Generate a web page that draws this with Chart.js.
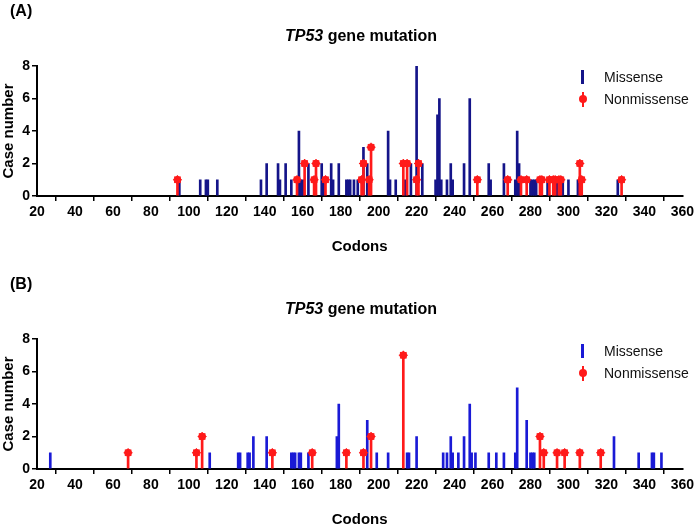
<!DOCTYPE html>
<html>
<head>
<meta charset="utf-8">
<title>TP53 gene mutation</title>
<script src="https://cdn.jsdelivr.net/npm/chart.js@4.4.0/dist/chart.umd.min.js"></script>
<style>
  body { margin: 0; background: #fff; font-family: "Liberation Sans", Arial, sans-serif; }
  #page { position: relative; width: 697px; height: 530px; overflow: hidden; }
  .panel { position: absolute; left: 0; width: 697px; height: 256px; }
  .panel canvas { position: absolute; left: 0; top: 0; }
  .tag { position: absolute; left: 10px; top: 2px; font-weight: bold; font-size: 16px; line-height: 18px; }
  .title { position: absolute; left: 361px; top: 27px; transform: translateX(-50%); white-space: nowrap;
           font-weight: bold; font-size: 16px; line-height: 18px; color: #000; }
  .leg { position: absolute; left: 604px; font-size: 14px; line-height: 16px; color: #111; }
  .ico-bar { position: absolute; left: 581px; width: 3px; height: 14px; }
  .ico-line { position: absolute; left: 581.5px; width: 2px; height: 15px; background: #ff1a1a; }
  .ico-dot { position: absolute; left: 578.5px; width: 8px; height: 8px; border-radius: 50%; background: #ff1a1a; }
</style>
</head>
<body>
<div id="page">
  <div class="panel" style="top:0">
    <canvas id="chartA" width="697" height="256"></canvas>
    <div class="tag">(A)</div>
    <div class="title"><i>TP53</i> gene mutation</div>
    <span class="ico-bar" style="top:70px; background:#141489"></span>
    <div class="leg" style="top:69px">Missense</div>
    <span class="ico-line" style="top:92px"></span>
    <span class="ico-dot" style="top:95px"></span>
    <div class="leg" style="top:91px">Nonmissense</div>
  </div>
  <div class="panel" style="top:273px">
    <canvas id="chartB" width="697" height="256"></canvas>
    <div class="tag">(B)</div>
    <div class="title"><i>TP53</i> gene mutation</div>
    <span class="ico-bar" style="top:71px; background:#1a1ad6"></span>
    <div class="leg" style="top:70px">Missense</div>
    <span class="ico-line" style="top:93px"></span>
    <span class="ico-dot" style="top:96px"></span>
    <div class="leg" style="top:92px">Nonmissense</div>
  </div>
</div>

<script>
// ===== TP53 mutation lollipop charts =====

// --- Data: [codon, case number] ---
const missenseA = [
  [95, 1], [106, 1], [109, 1], [110, 1], [115, 1], [138, 1], [141, 2], [147, 2], [148, 1],
  [151, 2], [154, 1], [158, 4], [159, 1], [160, 1], [163, 2], [170, 2], [171, 1], [175, 2],
  [176, 1], [179, 2], [183, 1], [184, 1], [185, 1], [187, 1], [189, 1], [192, 3], [194, 2],
  [205, 4], [206, 1], [209, 1], [214, 1], [217, 2], [220, 8], [223, 2], [230, 1], [231, 5],
  [232, 6], [233, 1], [236, 1], [238, 2], [239, 1], [245, 2], [248, 6], [258, 2], [259, 1],
  [266, 2], [272, 1], [273, 4], [274, 2], [280, 1], [281, 1], [282, 1], [283, 1], [289, 1],
  [294, 1], [297, 1], [300, 1], [305, 1], [326, 1]
];
const nonmissenseA = [
  [94, 1], [157, 1], [161, 2], [166, 1], [167, 2], [172, 1], [191, 1], [192, 2], [195, 1],
  [196, 3], [213, 2], [215, 2], [220, 1], [221, 2], [252, 1], [268, 1], [275, 1], [278, 1],
  [285, 1], [286, 1], [290, 1], [292, 1], [293, 1], [295, 1], [296, 1], [306, 2], [307, 1],
  [328, 1]
];
const missenseB = [
  [27, 1], [111, 1], [126, 1], [127, 1], [131, 1], [132, 1], [134, 2], [141, 2], [154, 1],
  [155, 1], [156, 1], [158, 1], [159, 1], [163, 1], [178, 2], [179, 4], [194, 3], [199, 1],
  [205, 1], [215, 1], [216, 1], [220, 2], [234, 1], [236, 1], [238, 2], [239, 1], [242, 1],
  [245, 2], [248, 4], [249, 1], [251, 1], [258, 1], [262, 1], [266, 1], [272, 1], [273, 5],
  [278, 3], [280, 1], [281, 1], [282, 1], [324, 2], [337, 1], [344, 1], [345, 1], [349, 1]
];
const nonmissenseB = [
  [68, 1], [104, 1], [107, 2], [144, 1], [165, 1], [183, 1], [192, 1], [196, 2], [213, 7],
  [285, 2], [287, 1], [294, 1], [298, 1], [306, 1], [317, 1]
];

// axis ranges / tick steps
const codonRange = [20, 360, 20];
const caseRange = [0, 8, 2];

const RED = '#ff1a1a';
const tickFont = { family: '"Liberation Sans", Arial, sans-serif', size: 14, weight: 'bold' };
const titleFont = { family: '"Liberation Sans", Arial, sans-serif', size: 15, weight: 'bold' };

function toPoints(list) {
    return list.map(function (d) { return { x: d[0], y: d[1] }; });
}

function makePanel(id, missense, nonmissense, barColor) {
    const ctx = document.getElementById(id);
    new Chart(ctx.getContext('2d'), {
        type: 'bar',
        data: {
            datasets: [
                { label: 'Missense', data: toPoints(missense), backgroundColor: barColor,
                  barThickness: 2, grouped: false, order: 3 },
                { label: 'Nonmissense', data: toPoints(nonmissense), backgroundColor: RED,
                  barThickness: 2, grouped: false, order: 2 },
                { type: 'line', data: toPoints(nonmissense), showLine: false, pointStyle: 'circle',
                  pointRadius: 3.5, pointBackgroundColor: RED, pointBorderColor: RED, order: 1 },
                { type: 'line', data: toPoints(nonmissense), showLine: false, pointStyle: 'star',
                  pointRadius: 4.5, pointBorderColor: RED, pointBorderWidth: 1.2, order: 0 }
            ]
        },
        options: {
            responsive: false,
            animation: false,
            layout: { padding: { top: 66, right: 14, left: 0, bottom: 0 } },
            plugins: { legend: { display: false }, tooltip: { enabled: false } },
            scales: {
                x: {
                    type: 'linear', min: codonRange[0], max: codonRange[1], offset: false,
                    ticks: { stepSize: codonRange[2], color: '#000', font: tickFont, padding: 3,
                             maxRotation: 0, autoSkip: false },
                    grid: { drawOnChartArea: false, color: '#000', lineWidth: 1.5, tickLength: 5 },
                    border: { color: '#000', width: 2 },
                    title: { display: true, text: 'Codons', color: '#000', font: titleFont, padding: 0 },
                    afterFit: function (s) { s.height = 60; }
                },
                y: {
                    min: caseRange[0], max: caseRange[1],
                    ticks: { stepSize: caseRange[2], color: '#000', font: tickFont, padding: 2 },
                    grid: { drawOnChartArea: false, color: '#000', lineWidth: 1.5, tickLength: 5 },
                    border: { color: '#000', width: 2 },
                    title: { display: true, text: 'Case number', color: '#000', font: titleFont, padding: 0 },
                    afterFit: function (s) { s.width = 37; }
                }
            }
        }
    });
}

makePanel('chartA', missenseA, nonmissenseA, '#141489');
makePanel('chartB', missenseB, nonmissenseB, '#1a1ad6');
</script>
</body>
</html>
